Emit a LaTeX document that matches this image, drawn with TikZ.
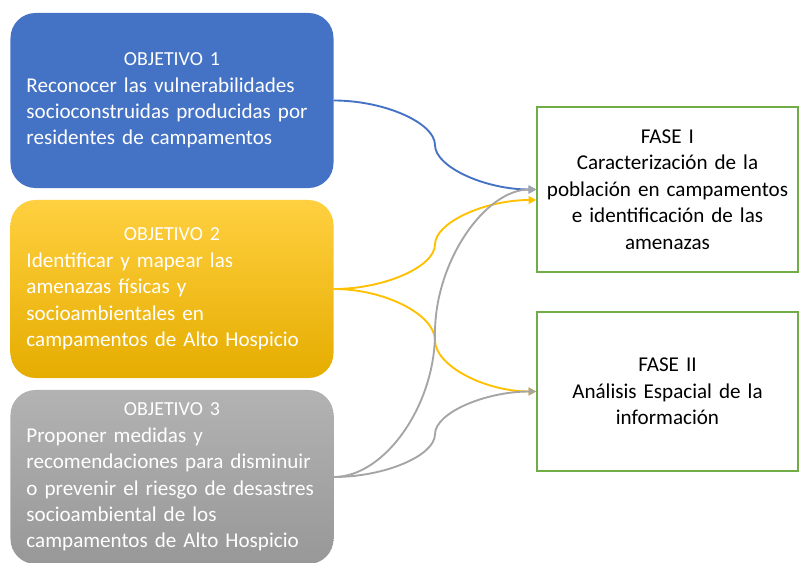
\documentclass[tikz,border=0pt]{standalone}
\usepackage{fontspec}
\setmainfont{Carlito}
\usetikzlibrary{calc,arrows.meta}
\definecolor{objblue}{HTML}{4472C4}
\definecolor{objgold}{HTML}{FFC000}
\definecolor{objgray}{HTML}{A5A5A5}
\definecolor{fasegreen}{HTML}{70AD47}
\tikzset{
  objbox/.style={rounded corners=0.75cm, minimum width=9.69cm, text width=8.73cm,
    inner xsep=0.48cm, align=left, text=white, font=\fontsize{18}{22.6}\selectfont},
  fasebox/.style={draw=fasegreen, line width=0.045cm, minimum width=7.83cm,
    text width=7.41cm, inner xsep=0.21cm, align=center, font=\fontsize{18}{22.6}\selectfont},
  link/.style={line width=1.6pt, -{Triangle[length=6.5pt,width=6.5pt]}},
}
\newcommand{\objtitle}[1]{\hfill{\fontsize{17}{22.6}\selectfont #1}\hfill\null\\}
\begin{document}
\begin{tikzpicture}[x=0.03cm,y=-0.03cm]
        \useasboundingbox (0,0) rectangle (799,563);

        % Objetivos
        \node [objbox, fill=objblue, minimum height=5.25cm] (o1) at (172,100.5)
          {\objtitle{OBJETIVO 1}Reconocer las vulnerabilidades\\ socioconstruidas producidas por\\ residentes de campamentos};%
        \node [objbox, top color=objgold!75!white, middle color=objgold, bottom color=objgold!90!black,
          minimum height=5.34cm] (o2) at (172,289)
          {\objtitle{OBJETIVO 2}Identificar y mapear las\\ amenazas físicas y\\ socioambientales en\\ campamentos de Alto Hospicio};%
        \node [objbox, top color=objgray!85!white, bottom color=objgray!92!black,
          minimum height=5.22cm] (o3) at (172,477)
          {\objtitle{OBJETIVO 3}Proponer medidas y\\ recomendaciones para disminuir\\ o prevenir el riesgo de desastres\\ socioambiental de los\\ campamentos de Alto Hospicio};%

        % Fases
        \node [fasebox, minimum height=4.95cm] (f1) at (667.5,189.5)
          {FASE I\\ Caracterización de la\\ población en campamentos\\ e identificación de las\\ amenazas};%
        \node [fasebox, minimum height=4.77cm] (f2) at (667.5,391.5)
          {FASE II\\ Análisis Espacial de la\\ información};%

        % Entry point and curve middles
        \coordinate (f1low) at ($(f1.west)+(0,10.5)$);%
        \coordinate (m1) at ($(o1.east)!0.5!(f1.west)$);%
        \coordinate (m2) at ($(o2.east)!0.5!(f1low)$);%
        \coordinate (m3) at ($(o2.east)!0.5!(f2.west)$);%
        \coordinate (m4) at ($(o3.east)!0.5!(f1.west)$);%
        \coordinate (m5) at ($(o3.east)!0.5!(f2.west)$);%

        % Connecting objetivo 1
        \draw [link, color=objblue] (o1.east) .. controls +(51,0) and +(0,-22) .. (m1) .. controls +(0,22) and +(-51,0) .. (f1.west);%

        % Connecting objetivo 2
        \draw [link, color=objgold] (o2.east) .. controls +(51,0) and +(0,22) .. (m2) .. controls +(0,-22) and +(-51,0) .. (f1low);%
        \draw [link, color=objgold] (o2.east) .. controls +(51,0) and +(0,-25.6) .. (m3) .. controls +(0,25.6) and +(-51,0) .. (f2.west);%

        % Connecting objetivo 3
        \draw [link, color=objgray] (o3.east) .. controls +(51,0) and +(0,72) .. (m4) .. controls +(0,-72) and +(-51,0) .. (f1.west);%
        \draw [link, color=objgray] (o3.east) .. controls +(51,0) and +(0,21.4) .. (m5) .. controls +(0,-21.4) and +(-51,0) .. (f2.west);%
\end{tikzpicture}
\end{document}
